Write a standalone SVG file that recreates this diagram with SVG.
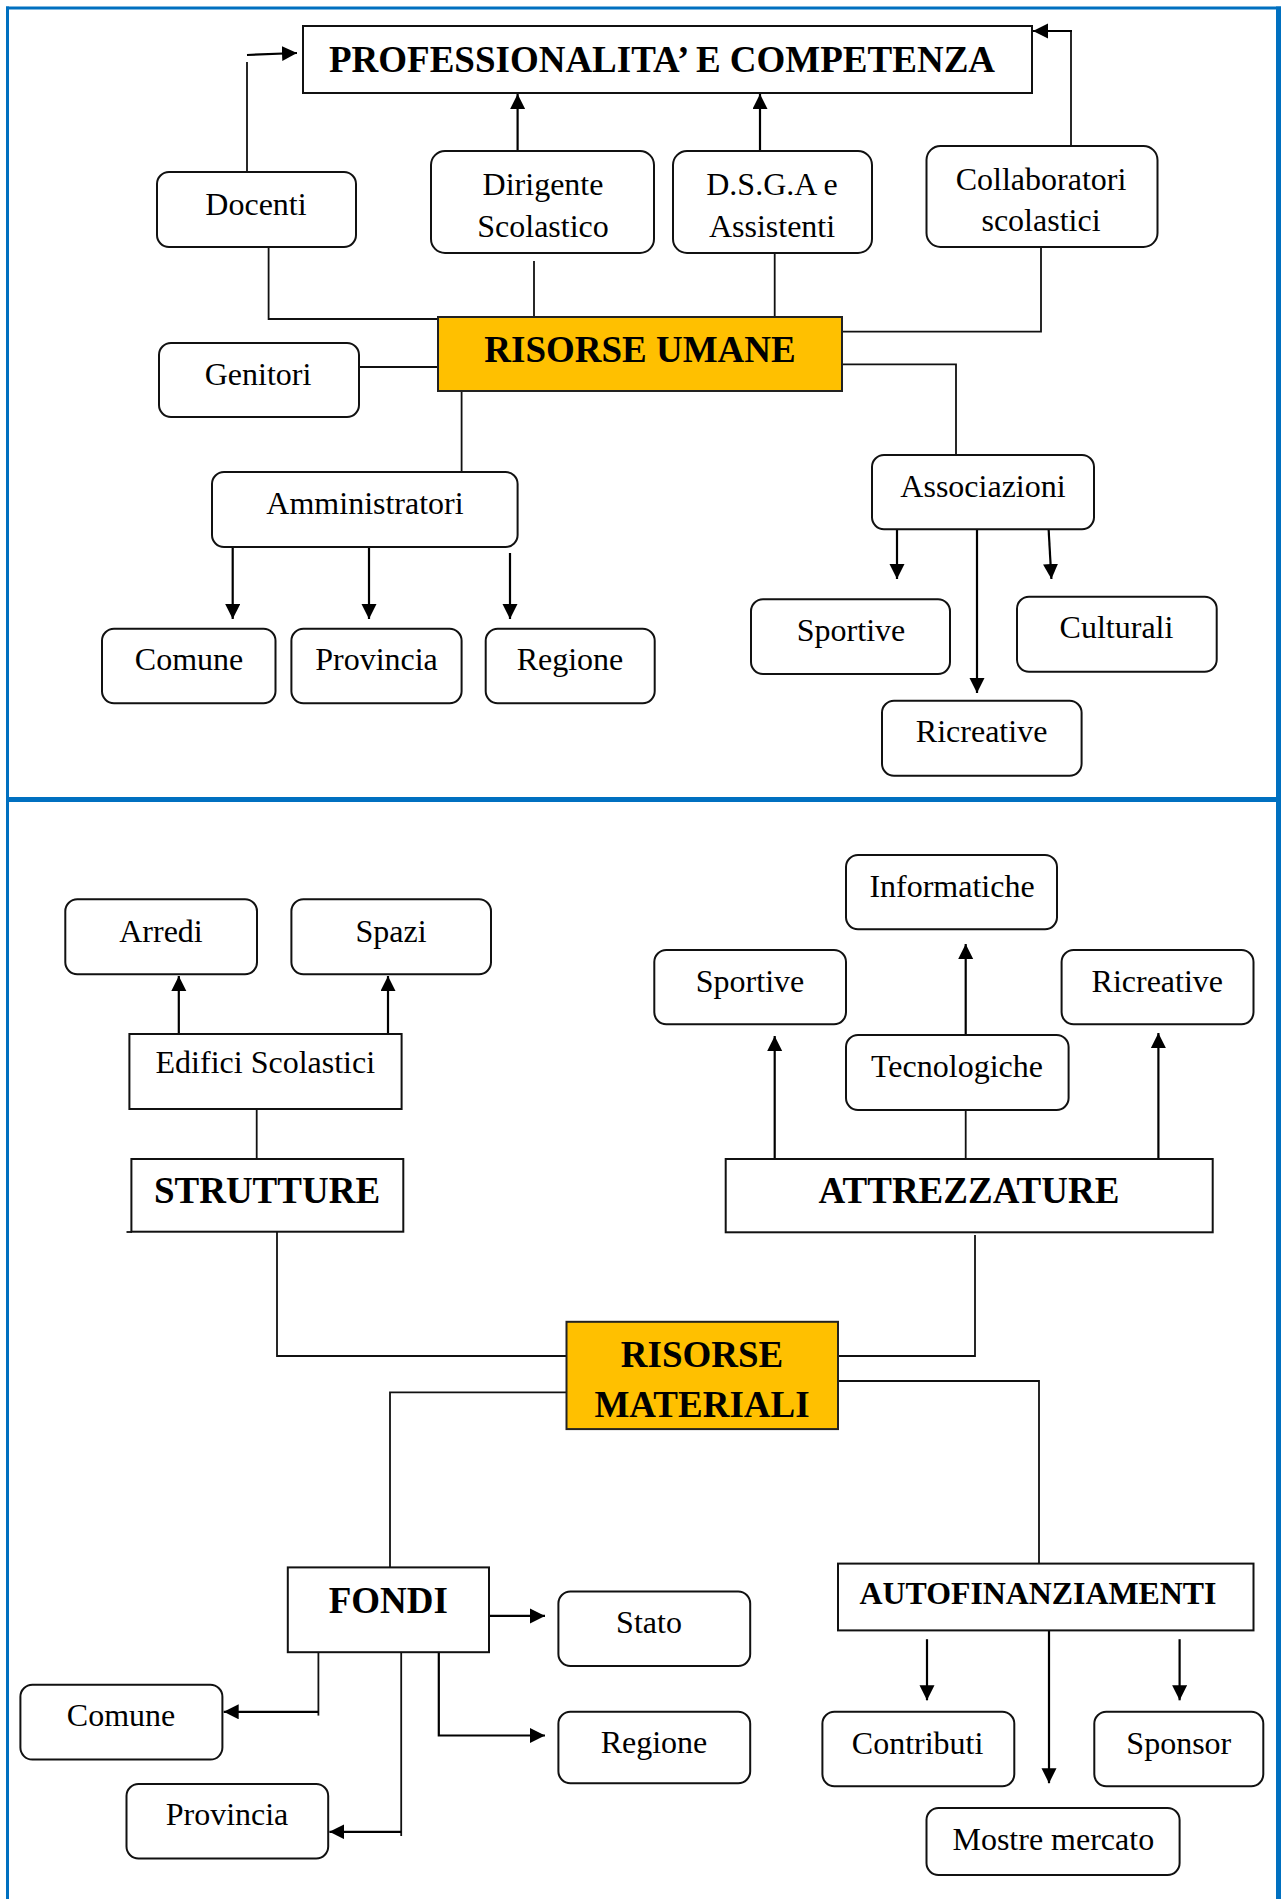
<svg xmlns="http://www.w3.org/2000/svg" width="1281" height="1899" viewBox="0 0 1281 1899">
<style>
  text { font-family: "Liberation Serif", "Times New Roman", serif; fill: #000; text-anchor: middle; }
  .t { font-size: 32px; }
  .b { font-size: 37px; font-weight: bold; }
  .rb { fill: #fff; stroke: #111; stroke-width: 2; }
  .sq { fill: #fff; stroke: #111; stroke-width: 2; }
  .hub { fill: #FFC000; stroke: #222; stroke-width: 2; }
  .c { fill: none; stroke: #111; stroke-width: 1.8; }
  .a { fill: none; stroke: #000; stroke-width: 2.2; marker-end: url(#ah); }
  .frame { fill: none; stroke: #0070C0; }
</style>
<defs>
  <marker id="ah" markerUnits="userSpaceOnUse" markerWidth="16" markerHeight="16" refX="15" refY="7.5" orient="auto">
    <path d="M0,0 L15,7.5 L0,15 z" fill="#000"/>
  </marker>
</defs>
<rect x="0" y="0" width="1281" height="1899" fill="#fff"/>
<g id="frame">
  <path class="frame" stroke-width="3" d="M7.5,6.5 V1899"/>
  <path class="frame" stroke-width="3" d="M6,8 H1281"/>
  <path class="frame" stroke-width="5" d="M1278.5,6.5 V1899"/>
  <path class="frame" stroke-width="5" d="M6,799.5 H1281"/>
</g>

<g id="connectors">
  <!-- top section -->
  <path class="c" d="M247,173 V62"/>
  <path class="a" d="M247,55 L297,53"/>
  <path class="a" d="M517.6,152 V94"/>
  <path class="a" d="M760,152 V94"/>
  <path class="c" d="M1071,152 V32"/>
  <path class="a" d="M1072,31 H1033"/>
  <path class="c" d="M268.6,247 V319 H438"/>
  <path class="c" d="M534,261 V317"/>
  <path class="c" d="M774.7,253 V317"/>
  <path class="c" d="M842,331.7 H1041 V247"/>
  <path class="c" d="M356,367 H438"/>
  <path class="c" d="M842,364.3 H956 V455"/>
  <path class="c" d="M461.6,391 V472"/>
  <path class="a" d="M232.7,547 V619"/>
  <path class="a" d="M369,547 V619"/>
  <path class="a" d="M510,553 V619"/>
  <path class="a" d="M897,529 V579"/>
  <path class="a" d="M977,529 V693"/>
  <path class="a" d="M1048.6,529 L1051.4,579"/>
  <!-- bottom section -->
  <path class="a" d="M178.8,1034 V976"/>
  <path class="a" d="M388,1034 V976"/>
  <path class="c" d="M256.7,1109 V1159"/>
  <path class="c" d="M277,1232 V1356 H566.5"/>
  <path class="c" d="M126.5,1232 H132"/>
  <path class="a" d="M774.7,1159 V1036"/>
  <path class="a" d="M1158.4,1159 V1033"/>
  <path class="c" d="M965.7,1159 V1110"/>
  <path class="a" d="M965.7,1038 V944"/>
  <path class="c" d="M975,1235 V1356 H838"/>
  <path class="c" d="M566.5,1392.4 H390 V1567.4"/>
  <path class="c" d="M838,1381 H1039 V1563.6"/>
  <path class="a" d="M485.7,1615.9 H545"/>
  <path class="c" d="M318.4,1652.2 V1715.6"/>
  <path class="a" d="M318.4,1711.8 H223.7"/>
  <path class="c" d="M401.2,1652.2 V1836"/>
  <path class="a" d="M401.2,1831.8 H329.4"/>
  <path class="a" d="M438.8,1652.2 V1735.5 H545"/>
  <path class="a" d="M927,1639.2 V1700.3"/>
  <path class="a" d="M1049,1625.5 V1783.2"/>
  <path class="a" d="M1179.6,1639.2 V1700.3"/>
</g>

<!-- top section nodes -->
<g id="professionalita">
  <rect class="sq" x="303" y="26" width="729" height="67"/>
  <text class="b" x="662" y="72">PROFESSIONALITA’ E COMPETENZA</text>
</g>
<g id="docenti">
  <rect class="rb" x="157" y="172" width="199" height="75" rx="12"/>
  <text class="t" x="256" y="215">Docenti</text>
</g>
<g id="dirigente">
  <rect class="rb" x="431" y="151" width="223" height="102" rx="14"/>
  <text class="t" x="543" y="195">Dirigente</text>
  <text class="t" x="543" y="237">Scolastico</text>
</g>
<g id="dsga">
  <rect class="rb" x="673" y="151" width="199" height="102" rx="14"/>
  <text class="t" x="772" y="195">D.S.G.A e</text>
  <text class="t" x="772" y="237">Assistenti</text>
</g>
<g id="collaboratori">
  <rect class="rb" x="926.5" y="146" width="231" height="101" rx="14"/>
  <text class="t" x="1041" y="190">Collaboratori</text>
  <text class="t" x="1041" y="231">scolastici</text>
</g>
<g id="risorse-umane">
  <rect class="hub" x="438" y="317" width="404" height="74"/>
  <text class="b" x="640" y="362">RISORSE UMANE</text>
</g>
<g id="genitori">
  <rect class="rb" x="159" y="343" width="200" height="74" rx="12"/>
  <text class="t" x="258" y="385">Genitori</text>
</g>
<g id="amministratori">
  <rect class="rb" x="212" y="472" width="305.6" height="75" rx="12"/>
  <text class="t" x="365" y="514">Amministratori</text>
</g>
<g id="comune-top">
  <rect class="rb" x="102" y="628.7" width="173.5" height="74.6" rx="12"/>
  <text class="t" x="189" y="670">Comune</text>
</g>
<g id="provincia-top">
  <rect class="rb" x="291.4" y="628.7" width="170.2" height="74.6" rx="12"/>
  <text class="t" x="376.5" y="670">Provincia</text>
</g>
<g id="regione-top">
  <rect class="rb" x="485.7" y="628.7" width="169" height="74.6" rx="12"/>
  <text class="t" x="570" y="670">Regione</text>
</g>
<g id="associazioni">
  <rect class="rb" x="872" y="455" width="222" height="74.3" rx="12"/>
  <text class="t" x="983" y="497">Associazioni</text>
</g>
<g id="sportive-top">
  <rect class="rb" x="751" y="599.3" width="199" height="74.7" rx="12"/>
  <text class="t" x="851" y="641">Sportive</text>
</g>
<g id="culturali">
  <rect class="rb" x="1017" y="596.7" width="199.7" height="75" rx="12"/>
  <text class="t" x="1116.5" y="638">Culturali</text>
</g>
<g id="ricreative-top">
  <rect class="rb" x="882" y="700.7" width="199.6" height="75" rx="12"/>
  <text class="t" x="981.6" y="742">Ricreative</text>
</g>

<!-- bottom section nodes -->
<g id="arredi">
  <rect class="rb" x="65.3" y="899.3" width="191.7" height="75" rx="12"/>
  <text class="t" x="161" y="942">Arredi</text>
</g>
<g id="spazi">
  <rect class="rb" x="291.4" y="899.3" width="199.6" height="75" rx="12"/>
  <text class="t" x="391" y="942">Spazi</text>
</g>
<g id="edifici">
  <rect class="sq" x="129.4" y="1034" width="272.2" height="75"/>
  <text class="t" x="265.3" y="1073">Edifici Scolastici</text>
</g>
<g id="strutture">
  <rect class="sq" x="131.4" y="1159" width="271.9" height="72.7"/>
  <text class="b" x="267" y="1203">STRUTTURE</text>
</g>
<g id="informatiche">
  <rect class="rb" x="846" y="855" width="211" height="74.3" rx="12"/>
  <text class="t" x="952" y="897">Informatiche</text>
</g>
<g id="sportive-bottom">
  <rect class="rb" x="654.3" y="950" width="191.7" height="74.3" rx="12"/>
  <text class="t" x="750" y="992">Sportive</text>
</g>
<g id="ricreative-bottom">
  <rect class="rb" x="1061.6" y="950" width="191.9" height="74.3" rx="12"/>
  <text class="t" x="1157.3" y="992">Ricreative</text>
</g>
<g id="tecnologiche">
  <rect class="rb" x="846" y="1035" width="222.6" height="75" rx="12"/>
  <text class="t" x="957" y="1077">Tecnologiche</text>
</g>
<g id="attrezzature">
  <rect class="sq" x="725.7" y="1159" width="487" height="73.3"/>
  <text class="b" x="969" y="1203">ATTREZZATURE</text>
</g>
<g id="risorse-materiali">
  <rect class="hub" x="566.5" y="1321.8" width="271.5" height="107.3"/>
  <text class="b" x="702" y="1367">RISORSE</text>
  <text class="b" x="702" y="1416.5">MATERIALI</text>
</g>
<g id="fondi">
  <rect class="sq" x="287.8" y="1567.4" width="201.2" height="84.8"/>
  <text class="b" x="388.3" y="1612.5">FONDI</text>
</g>
<g id="stato">
  <rect class="rb" x="558.4" y="1591.5" width="191.8" height="74.5" rx="12"/>
  <text class="t" x="649" y="1633">Stato</text>
</g>
<g id="regione-bottom">
  <rect class="rb" x="558.4" y="1711.8" width="191.8" height="71.4" rx="12"/>
  <text class="t" x="654" y="1752.7">Regione</text>
</g>
<g id="comune-bottom">
  <rect class="rb" x="20.4" y="1684.7" width="202" height="74.9" rx="12"/>
  <text class="t" x="121" y="1726">Comune</text>
</g>
<g id="provincia-bottom">
  <rect class="rb" x="126.5" y="1784" width="201.7" height="74.5" rx="12"/>
  <text class="t" x="227" y="1825.3">Provincia</text>
</g>
<g id="autofinanziamenti">
  <rect class="sq" x="838" y="1563.6" width="415.5" height="66.8"/>
  <text x="1038" y="1603.7" font-size="32" font-weight="bold" textLength="357" lengthAdjust="spacingAndGlyphs">AUTOFINANZIAMENTI</text>
</g>
<g id="contributi">
  <rect class="rb" x="822.4" y="1711.8" width="191.9" height="74.5" rx="12"/>
  <text class="t" x="917.6" y="1753.5">Contributi</text>
</g>
<g id="sponsor">
  <rect class="rb" x="1094.3" y="1711.8" width="169" height="74.5" rx="12"/>
  <text class="t" x="1178.8" y="1753.5">Sponsor</text>
</g>
<g id="mostre">
  <rect class="rb" x="926.5" y="1808" width="253.1" height="67" rx="12"/>
  <text class="t" x="1053.3" y="1850">Mostre mercato</text>
</g>
</svg>
